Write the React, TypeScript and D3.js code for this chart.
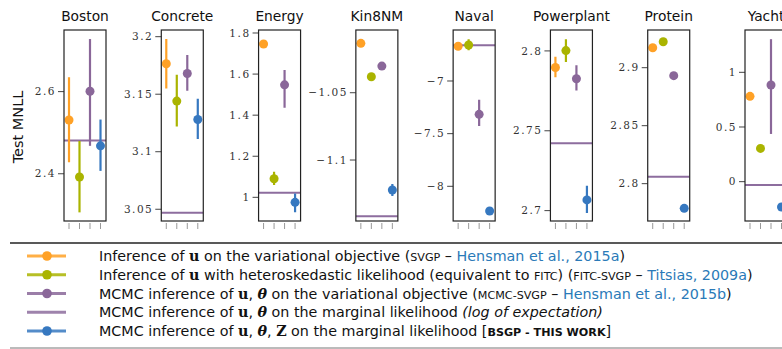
import React from "react";
import * as d3 from "d3";

const datasets = ["Boston", "Concrete", "Energy", "Kin8NM", "Naval", "Powerplant", "Protein", "Yacht"];
const yDomains = [
  [2.285, 2.75], [3.0398, 3.2058], [0.8847, 1.8146], [-1.1453, -1.0034],
  [-8.3295, -6.5157], [2.6935, 2.8131], [2.7678, 2.9325], [-0.3598, 1.387],
];
const yTicks = [
  [2.4, 2.6], [3.05, 3.1, 3.15, 3.2], [1, 1.2, 1.4, 1.6, 1.8], [-1.1, -1.05],
  [-8, -7.5, -7], [2.7, 2.75, 2.8], [2.8, 2.85, 2.9], [0, 0.5, 1],
];

const methods = ["svgp", "fitc", "mcmc", "bsgp"];
const svgpMean = [2.531, 3.1765, 1.7465, -1.0133, -6.6705, 2.7896, 2.9172, 0.7804];
const svgpLo = [2.428, 3.155, 1.744, -1.0143, -6.675, 2.7835, 2.9165, 0.755];
const svgpHi = [2.635, 3.198, 1.749, -1.0123, -6.666, 2.7964, 2.9179, 0.805];
const fitcMean = [2.392, 3.144, 1.0905, -1.0381, -6.658, 2.8002, 2.9224, 0.3038];
const fitcLo = [2.306, 3.122, 1.0596, -1.0391, -6.709, 2.7931, 2.9217, 0.295];
const fitcHi = [2.48, 3.167, 1.124, -1.0371, -6.6045, 2.8073, 2.9231, 0.312];
const mcmcMean = [2.601, 3.168, 1.5477, -1.0302, -7.3165, 2.7826, 2.8931, 0.884];
const mcmcLo = [2.468, 3.153, 1.4358, -1.0312, -7.4272, 2.7752, 2.8924, 0.4362];
const mcmcHi = [2.728, 3.184, 1.6196, -1.0292, -7.1775, 2.791, 2.8938, 1.303];
const marginalLine = [2.481, 3.047, 1.0224, -1.1417, -6.661, 2.7422, 2.806, -0.03];
const bsgpMean = [2.468, 3.128, 0.9757, -1.1223, -8.2345, 2.7067, 2.7787, -0.2315];
const bsgpLo = [2.407, 3.111, 0.927, -1.1267, -8.245, 2.6985, 2.778, -0.245];
const bsgpHi = [2.532, 3.146, 1.019, -1.1178, -8.224, 2.7156, 2.7794, -0.218];

const colors: Record<string, string> = {
  svgp: "#ffa126",
  fitc: "#aab400",
  mcmc: "#8a6799",
  bsgp: "#3678c0",
};
const lineColor = "#8d6d9e";

const series = [
  { key: "svgp", mean: svgpMean, lo: svgpLo, hi: svgpHi },
  { key: "fitc", mean: fitcMean, lo: fitcLo, hi: fitcHi },
  { key: "mcmc", mean: mcmcMean, lo: mcmcLo, hi: mcmcHi },
  { key: "bsgp", mean: bsgpMean, lo: bsgpLo, hi: bsgpHi },
];

const W = 782, H = 349;
const top = 30, bottom = 221, boxW = 42;
const panelX = d3.scaleLinear().domain([0, 7]).range([64, 745]);
const innerX = d3.scalePoint<string>().domain(methods).range([5, 36.5]);

const fmt = (v: number) => {
  const s = d3.format("")(v);
  return s.replace("-", "\u2212");
};

const serif = "'DejaVu Serif', serif";
const sans = "'DejaVu Sans', sans-serif";
const linkColor = "#2a7ab8";

function SC({ children, bold }: { children: string; bold?: boolean }) {
  return (
    <tspan fontSize="0.78em" fontWeight={bold ? "bold" : "normal"}>{children}</tspan>
  );
}
function MathB({ children, italic }: { children: string; italic?: boolean }) {
  return (
    <tspan fontFamily={serif} fontWeight="bold" fontStyle={italic ? "italic" : "normal"}>{children}</tspan>
  );
}

export default function App() {
  const legendRows = [0, 1, 2, 3, 4];
  const legendY = d3.scaleLinear().domain([0, 4]).range([256, 331]);
  const legendKeys = ["svgp", "fitc", "mcmc", "line", "bsgp"];
  const legendTexts = [
    <>Inference of <MathB>u</MathB> on the variational objective (<SC>SVGP</SC> – <tspan fill={linkColor}>Hensman et al., 2015a</tspan>)</>,
    <>Inference of <MathB>u</MathB> with heteroskedastic likelihood (equivalent to <SC>FITC</SC>) (<SC>FITC-SVGP</SC> – <tspan fill={linkColor}>Titsias, 2009a</tspan>)</>,
    <>MCMC inference of <MathB>u</MathB>, <MathB italic>θ</MathB> on the variational objective (<SC>MCMC-SVGP</SC> – <tspan fill={linkColor}>Hensman et al., 2015b</tspan>)</>,
    <>MCMC inference of <MathB>u</MathB>, <MathB italic>θ</MathB> on the marginal likelihood <tspan fontStyle="italic">(log of expectation)</tspan></>,
    <>MCMC inference of <MathB>u</MathB>, <MathB italic>θ</MathB>, <MathB>Z</MathB> on the marginal likelihood [<SC bold>BSGP - THIS WORK</SC>]</>,
  ];
  return (
    <svg width={W} height={H} style={{ position: "absolute", left: 0, top: 0, background: "#fff" }}>
      <text transform={`translate(23,127) rotate(-90)`} textAnchor="middle" fontFamily={sans} fontSize={14.5} fill="#111">Test MNLL</text>
      {datasets.map((name, i) => {
        const x0 = panelX(i);
        const y = d3.scaleLinear().domain(yDomains[i]).range([bottom, top]);
        const clipId = `clip${i}`;
        return (
          <g key={name}>
            <defs>
              <clipPath id={clipId}>
                <rect x={x0} y={top} width={boxW} height={bottom - top} />
              </clipPath>
            </defs>
            <text x={x0 + boxW / 2} y={21} textAnchor="middle" fontFamily={sans} fontSize={13.8} fill="#111">{name}</text>
            {yTicks[i].map((t) => (
              <g key={t}>
                <line x1={x0 - 6} x2={x0} y1={y(t)} y2={y(t)} stroke="#444" strokeWidth={1} />
                <text x={x0 - 8} y={y(t)} dy="0.35em" textAnchor="end" fontFamily={serif} fontSize={10.5} fill="#333" letterSpacing={1.5}>{fmt(t)}</text>
              </g>
            ))}
            {methods.map((m) => (
              <line key={m} x1={x0 + innerX(m)!} x2={x0 + innerX(m)!} y1={bottom + 2} y2={bottom + 8} stroke="#999" strokeWidth={1} />
            ))}
            <g clipPath={`url(#${clipId})`}>
              <line x1={x0} x2={x0 + boxW} y1={y(marginalLine[i])} y2={y(marginalLine[i])} stroke={lineColor} strokeWidth={2} />
              {series.map((s) => {
                const cx = x0 + innerX(s.key)!;
                return (
                  <g key={s.key}>
                    <line x1={cx} x2={cx} y1={y(s.lo[i])} y2={y(s.hi[i])} stroke={colors[s.key]} strokeWidth={2.2} />
                    <circle cx={cx} cy={y(s.mean[i])} r={4.5} fill={colors[s.key]} />
                  </g>
                );
              })}
            </g>
            <rect x={x0} y={top} width={boxW} height={bottom - top} fill="none" stroke="#222" strokeWidth={1.2} />
          </g>
        );
      })}
      <line x1={10} x2={W} y1={243} y2={243} stroke="#222" strokeWidth={1.5} />
      <line x1={10} x2={W} y1={348} y2={348} stroke="#777" strokeWidth={1} />
      {legendRows.map((r) => {
        const ly = legendY(r);
        const k = legendKeys[r];
        const c = k === "line" ? lineColor : colors[k];
        return (
          <g key={r}>
            <line x1={27} x2={66} y1={ly} y2={ly} stroke={c} strokeOpacity={0.85} strokeWidth={3} />
            {k !== "line" && <circle cx={47} cy={ly} r={4.8} fill={c} />}
            <text x={99} y={ly} dy="0.36em" fontFamily={sans} fontSize={14.3} fill="#111">{legendTexts[r]}</text>
          </g>
        );
      })}
    </svg>
  );
}
